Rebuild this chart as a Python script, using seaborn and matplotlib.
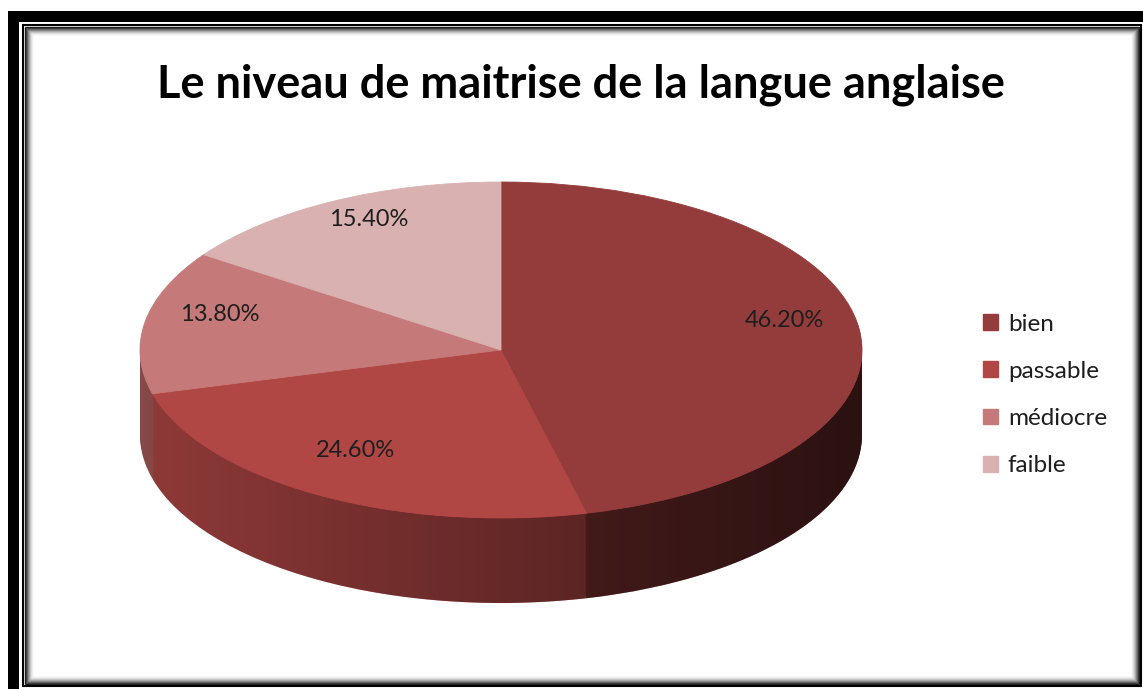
import numpy as np
import matplotlib
matplotlib.use('Agg')
import matplotlib.pyplot as plt
import seaborn as sns
from matplotlib.patches import Rectangle, Patch, PathPatch
from matplotlib.path import Path

# data
categories = ['bien', 'passable', 'médiocre', 'faible']
values = [46.2, 24.6, 13.8, 15.4]
top_colors = ['#943c3b', '#b04745', '#c57a79', '#d9b1b1']
side_colors = ['#7e3231', '#b04745', '#a55a59', '#d9b1b1']
title = 'Le niveau de maitrise de la langue anglaise'

sns.set_theme(style='white')
plt.rcParams['font.family'] = ['Lato', 'DejaVu Sans']

W, H = 1143, 689
fig = plt.figure(figsize=(W / 100, H / 100), dpi=100)
fig.patch.set_facecolor('white')

# frame around the chart (pixel coords)
bg = fig.add_axes([0, 0, 1, 1])
bg.set_xlim(0, W)
bg.set_ylim(H, 0)
bg.axis('off')
bg.add_patch(Rectangle((8, 11), W, H, color='black', lw=0))
bg.add_patch(Rectangle((19, 22), W, H, color='white', lw=0))
bg.add_patch(Rectangle((23, 25), 1118, 661, facecolor='white', edgecolor='black', lw=1.5))
for i in range(9):
    bg.add_patch(Rectangle((25 + i, 27 + i), 1114 - 2 * i, 657 - 2 * i, fill=False,
                           edgecolor='black', lw=1, alpha=0.85 * (1 - i / 9) ** 2))

# pie axes, squashed to look like a tilted disc
ax = fig.add_axes([0, 0, 1, 1])
ax.set_facecolor('none')
px, py = 361, 168      # pixels per data unit
cx, cy = 501, 350      # pie centre in pixels (from top)
depth = 85 / py

# side of the disc: stacked copies of the pie going down
for k in np.linspace(depth, 0.01, 45):
    sw, _ = ax.pie(values, colors=side_colors, startangle=90, counterclock=False,
                   center=(0, -k), wedgeprops=dict(linewidth=0), frame=True)

# shading over the side, darker to the right
t = np.linspace(np.pi, 2 * np.pi, 200)
verts = np.concatenate([np.column_stack([np.cos(t), np.sin(t)]),
                        np.column_stack([np.cos(t[::-1]), np.sin(t[::-1]) - depth])])
side_patch = PathPatch(Path(verts), facecolor='none', edgecolor='none')
ax.add_patch(side_patch)
xs = np.linspace(-1, 1, 300)
alpha = 0.19 + 0.47 * (xs + 1) / 2
grad = np.zeros((2, len(xs), 4))
grad[..., 3] = alpha
im = ax.imshow(grad, extent=(-1, 1, -1 - depth, 0), aspect='auto', origin='lower',
               interpolation='bilinear', zorder=3)
im.set_clip_path(side_patch)

# top face
wedges, texts, autotexts = ax.pie(values, colors=top_colors, startangle=90, counterclock=False,
                                  autopct='%.2f%%', pctdistance=0.79,
                                  textprops=dict(fontsize=17, color='#1e1e1e'),
                                  wedgeprops=dict(linewidth=0.6), frame=True)
for w, c in zip(wedges, top_colors):
    w.set_edgecolor(c)
    w.set_zorder(4)
for a in autotexts:
    x, y = a.get_position()
    a.set_position((x, y + 0.08))
    a.set_zorder(5)

ax.set_aspect('auto')
ax.set_xlim(-cx / px, (W - cx) / px)
ax.set_ylim(-(H - cy) / py, cy / py)
ax.axis('off')

# legend
handles = [Patch(facecolor=c, edgecolor=c) for c in top_colors]
fig.legend(handles, categories, loc='center left', bbox_to_anchor=(983 / W, 1 - 395 / H),
           frameon=False, fontsize=17.5, handlelength=0.62, handleheight=0.62,
           handletextpad=0.4, labelspacing=1.08, borderpad=0, borderaxespad=0,
           labelcolor='#1e1e1e')

fig.text(581 / W, 1 - 97 / H, title, ha='center', va='baseline',
         fontsize=32.5, fontweight='bold', color='black')

fig.savefig('out.png', dpi=100)
